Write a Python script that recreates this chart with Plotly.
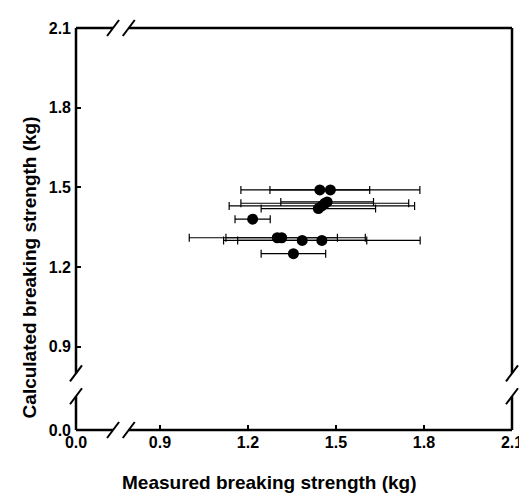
import plotly.graph_objects as go

# ---- data ----
measured = [1.445, 1.481, 1.440, 1.452, 1.462, 1.470, 1.216, 1.300, 1.315, 1.385, 1.452, 1.355]
calculated = [1.49, 1.49, 1.42, 1.43, 1.44, 1.445, 1.38, 1.31, 1.31, 1.30, 1.30, 1.25]
measured_sd = [0.17, 0.305, 0.195, 0.316, 0.286, 0.158, 0.06, 0.30, 0.19, 0.22, 0.335, 0.11]

x_tick_vals = [0.614, 0.9, 1.2, 1.5, 1.8, 2.1]
x_tick_text = ["0.0", "0.9", "1.2", "1.5", "1.8", "2.1"]
y_tick_vals = [0.586, 0.9, 1.2, 1.5, 1.8, 2.1]
y_tick_text = ["0.0", "0.9", "1.2", "1.5", "1.8", "2.1"]

FONT = "Liberation Sans"

fig = go.Figure()
fig.add_trace(go.Scatter(
    x=measured, y=calculated, mode="markers",
    marker=dict(color="black", size=11),
    error_x=dict(type="data", array=measured_sd, visible=True,
                 color="black", thickness=1.2, width=4),
    showlegend=False,
))

fig.update_xaxes(range=[0.614, 2.1], tickvals=x_tick_vals, ticktext=x_tick_text,
                 showgrid=False, zeroline=False, showline=False,
                 ticks="inside", ticklen=5, tickwidth=1.5, tickcolor="black",
                 ticklabelstandoff=1,
                 tickfont=dict(family=FONT, size=16, color="black", weight="bold"))
fig.update_yaxes(range=[0.586, 2.1], tickvals=y_tick_vals, ticktext=y_tick_text,
                 showgrid=False, zeroline=False, showline=False,
                 ticks="inside", ticklen=5, tickwidth=1.5, tickcolor="black",
                 ticklabelstandoff=4,
                 tickfont=dict(family=FONT, size=16, color="black", weight="bold"))

# frame with axis breaks
LW = 2.5
xb1, xb2 = 0.085, 0.121   # x break positions (paper)
yb1, yb2 = 0.084, 0.141   # y break positions (paper)
shapes = []
def seg(x0, y0, x1, y1):
    shapes.append(dict(type="line", xref="paper", yref="paper", x0=x0, y0=y0, x1=x1, y1=y1,
                       line=dict(color="black", width=LW)))
for yy in (0, 1):
    seg(0, yy, xb1, yy)
    seg(xb2, yy, 1, yy)
for xx in (0, 1):
    seg(xx, 0, xx, yb1)
    seg(xx, yb2, xx, 1)
def slash(xa, ya):
    shapes.append(dict(type="line", xref="paper", yref="paper",
                       xsizemode="pixel", ysizemode="pixel", xanchor=xa, yanchor=ya,
                       x0=-6, y0=-8, x1=6, y1=8, line=dict(color="black", width=2)))
for yy in (0, 1):
    slash(xb1, yy); slash(xb2, yy)
for xx in (0, 1):
    slash(xx, yb1); slash(xx, yb2)

fig.update_layout(
    width=527, height=495,
    margin=dict(l=68, r=12, t=17, b=73),
    plot_bgcolor="white", paper_bgcolor="white",
    shapes=shapes,
    annotations=[
        dict(text="Measured breaking strength (kg)", xref="paper", yref="paper",
             x=(266 - 68) / 447, y=-(475 - 422) / 405, showarrow=False,
             xanchor="center", yanchor="middle",
             font=dict(family=FONT, size=19, color="black", weight="bold")),
        dict(text="Calculated breaking strength (kg)", xref="paper", yref="paper",
             x=-(68 - 20) / 447, y=(422 - 258) / 405, showarrow=False, textangle=-90,
             xanchor="center", yanchor="middle",
             font=dict(family=FONT, size=19, color="black", weight="bold")),
    ],
)

fig.write_html("out.html")
